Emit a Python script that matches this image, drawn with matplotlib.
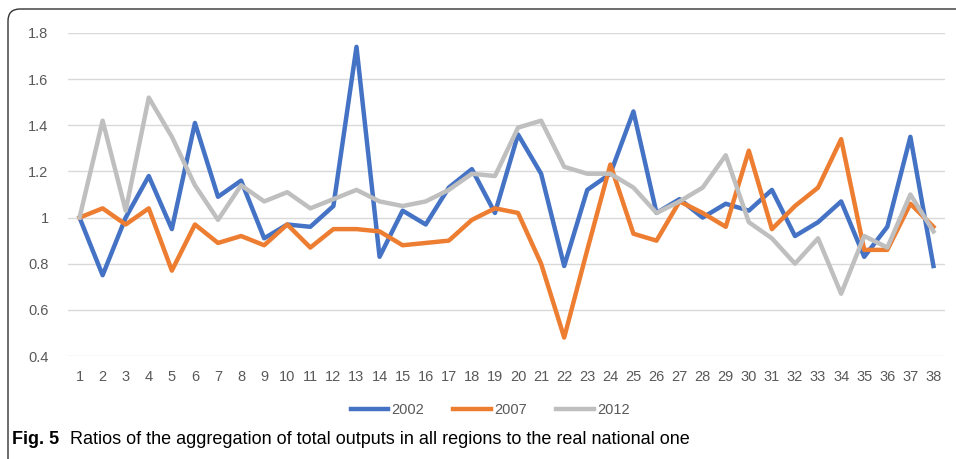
import matplotlib.pyplot as plt
from matplotlib.patches import FancyBboxPatch

regions = list(range(1, 39))
v2002 = [1.0, 0.75, 1.0, 1.18, 0.95, 1.41, 1.09, 1.16, 0.91, 0.97,
         0.96, 1.05, 1.74, 0.83, 1.03, 0.97, 1.13, 1.21, 1.02, 1.36,
         1.19, 0.79, 1.12, 1.19, 1.46, 1.02, 1.08, 1.0, 1.06, 1.03,
         1.12, 0.92, 0.98, 1.07, 0.83, 0.96, 1.35, 0.79]
v2007 = [1.0, 1.04, 0.97, 1.04, 0.77, 0.97, 0.89, 0.92, 0.88, 0.97,
         0.87, 0.95, 0.95, 0.94, 0.88, 0.89, 0.90, 0.99, 1.04, 1.02,
         0.80, 0.48, 0.86, 1.23, 0.93, 0.90, 1.07, 1.02, 0.96, 1.29,
         0.95, 1.05, 1.13, 1.34, 0.86, 0.86, 1.06, 0.96]
v2012 = [1.0, 1.42, 1.03, 1.52, 1.35, 1.14, 0.99, 1.14, 1.07, 1.11,
         1.04, 1.08, 1.12, 1.07, 1.05, 1.07, 1.12, 1.19, 1.18, 1.39,
         1.42, 1.22, 1.19, 1.19, 1.13, 1.02, 1.07, 1.13, 1.27, 0.98,
         0.91, 0.80, 0.91, 0.67, 0.92, 0.87, 1.10, 0.94]
yticks = [0.4, 0.6, 0.8, 1.0, 1.2, 1.4, 1.6, 1.8]
ytick_labels = ['0.4', '0.6', '0.8', '1', '1.2', '1.4', '1.6', '1.8']

plt.rcParams['font.family'] = ['Liberation Sans', 'DejaVu Sans']

fig = plt.figure(figsize=(9.56, 4.59), dpi=100)

# rounded frame around chart + caption (in inches)
frame = FancyBboxPatch((0.08, -0.3), 10.0, 4.80,
                       boxstyle="round,pad=0,rounding_size=0.12",
                       transform=fig.dpi_scale_trans, fill=False,
                       edgecolor='#333333', linewidth=1.0)
fig.patches.append(frame)

ax = fig.add_axes([68 / 956, 103 / 459, 877 / 956, 323 / 459])
ax.plot(regions, v2002, color='#4472C4', lw=3.2, label='2002', solid_joinstyle='round')
ax.plot(regions, v2007, color='#ED7D31', lw=3.2, label='2007', solid_joinstyle='round')
ax.plot(regions, v2012, color='#BFBFBF', lw=3.2, label='2012', solid_joinstyle='round')

ax.set_xlim(0.5, 38.5)
ax.set_ylim(0.4, 1.8)
ax.set_yticks(yticks)
ax.set_yticklabels(ytick_labels)
ax.set_xticks(regions)
ax.set_xticklabels([str(r) for r in regions])
ax.grid(axis='y', color='#D9D9D9', lw=1)
ax.set_axisbelow(True)
for s in ax.spines.values():
    s.set_visible(False)
ax.tick_params(length=0, labelsize=10.5, colors='#595959', pad=10)
ax.tick_params(axis='y', pad=14)

ax.legend(loc='center', bbox_to_anchor=(490 / 956, (459 - 410) / 459),
          bbox_transform=fig.transFigure, ncol=3, frameon=False,
          fontsize=10.5, handlelength=2.6, columnspacing=2.0, handletextpad=0.2,
          labelcolor='#595959')

fig.text(12 / 956, (459 - 440) / 459, 'Fig. 5', fontsize=13, fontweight='bold',
         va='center', ha='left')
fig.text(70 / 956, (459 - 440) / 459,
         'Ratios of the aggregation of total outputs in all regions to the real national one',
         fontsize=13, va='center', ha='left')

plt.savefig('out.png', dpi=100)
plt.close()
